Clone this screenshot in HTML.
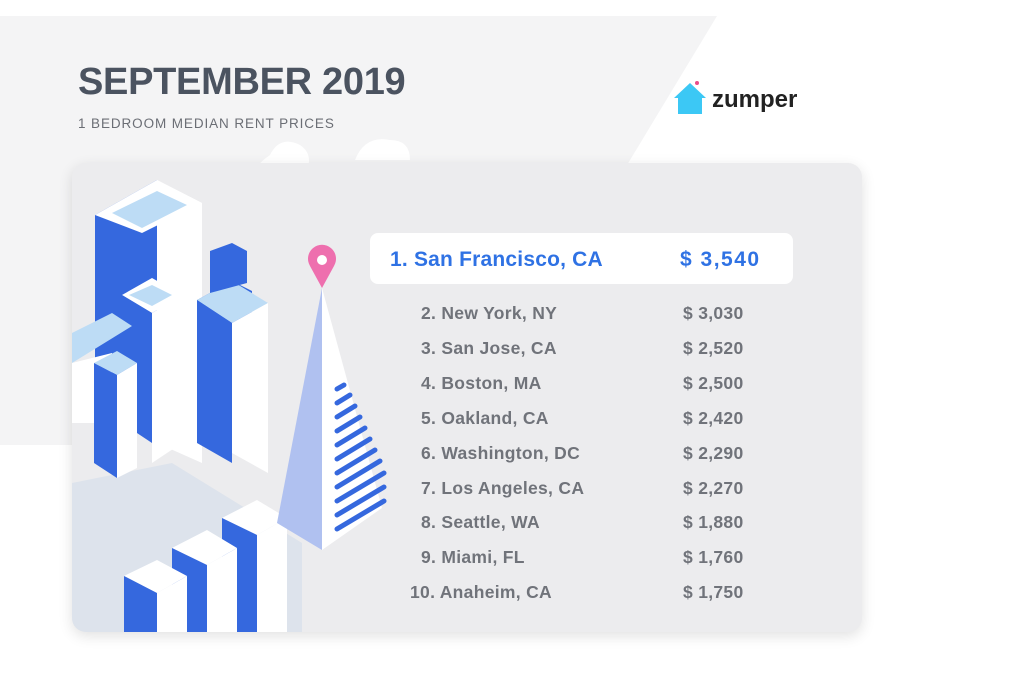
<!DOCTYPE html>
<html><head><style>
body{margin:0;width:1024px;height:673px;background:#fff;position:relative;overflow:hidden;font-family:"Liberation Sans",sans-serif}
.t{position:absolute;white-space:nowrap}
.card{position:absolute;left:72px;top:163px;width:790px;height:469px;background:#ececee;border-radius:14px;box-shadow:0 4px 14px rgba(0,0,0,.12);overflow:hidden}
.hl{position:absolute;left:370px;top:233px;width:423px;height:51px;background:#fff;border-radius:8px}
.r{position:absolute;font-size:17.5px;font-weight:bold;color:#70737a;letter-spacing:0.3px;white-space:nowrap}
</style></head><body>
<svg width="1024" height="673" style="position:absolute;left:0;top:0">
<polygon points="0,16 717,16 458,445 0,445" fill="#f4f4f5"/>
<path d="M245,215 q-5,-40 25,-60 q10,-20 30,-10 q15,10 5,30 l-50,50z" fill="#fff"/>
<path d="M355,160 q10,-25 35,-20 q20,0 20,20z" fill="#fff"/>
</svg>
<div class="t" style="left:78px;top:61px;font-size:38px;font-weight:bold;color:#4b5360;letter-spacing:-0.3px">SEPTEMBER 2019</div>
<div class="t" style="left:78px;top:116px;font-size:13.5px;color:#6b6e75;letter-spacing:0.9px">1 BEDROOM MEDIAN RENT PRICES</div>
<svg width="40" height="40" style="position:absolute;left:672px;top:80px"><polygon points="2,18 18,3 34,18 30,18 30,34 6,34 6,18" fill="#3cc8f5"/><circle cx="25" cy="3" r="2" fill="#e84d8a"/></svg>
<div class="t" style="left:712px;top:86px;font-size:24px;font-weight:bold;color:#222">zumper</div>
<div class="card">
<svg width="330" height="469" style="position:absolute;left:0;top:0">
<polygon points="0,320 100,300 230,380 230,469 0,469" fill="#dde3ec"/>
<polygon points="23,52 85,17 85,260 23,240" fill="#3568de"/>
<polygon points="85,17 130,40 130,300 85,280" fill="#fff"/>
<polygon points="23,52 85,17 130,40 70,70" fill="#fff"/>
<polygon points="40,50 85,28 115,42 70,65" fill="#bddcf5"/>
<polygon points="125,137 160,118 180,128 180,200 125,230" fill="#3568de"/>
<polygon points="125,137 160,118 196,140 160,160" fill="#bddcf5"/>
<polygon points="125,137 160,160 160,300 125,280" fill="#3568de"/>
<polygon points="160,160 196,140 196,310 160,290" fill="#fff"/>
<polygon points="138,88 160,80 175,88 175,120 138,130" fill="#3568de"/>
<polygon points="50,132 80,115 110,132 80,150" fill="#fff"/>
<polygon points="57,132 80,122 100,132 80,143" fill="#bddcf5"/>
<polygon points="50,132 80,150 80,280 50,260" fill="#3568de"/>
<polygon points="80,150 110,132 110,280 80,300" fill="#fff"/>
<polygon points="0,170 40,150 60,163 0,200" fill="#bddcf5"/>
<polygon points="0,200 40,190 40,260 0,260" fill="#fff"/>
<polygon points="22,200 45,188 65,200 45,212" fill="#bddcf5"/>
<polygon points="22,200 45,212 45,315 22,300" fill="#3568de"/>
<polygon points="45,212 65,200 65,305 45,315" fill="#fff"/>
<polygon points="150,355 185,337 215,355 185,372" fill="#fff"/>
<polygon points="150,355 185,372 185,469 150,469" fill="#3568de"/>
<polygon points="185,372 215,355 215,469 185,469" fill="#fff"/>
<polygon points="100,385 135,367 165,385 135,402" fill="#fff"/>
<polygon points="100,385 135,402 135,469 100,469" fill="#3568de"/>
<polygon points="135,402 165,385 165,469 135,469" fill="#fff"/>
<polygon points="52,413 85,397 115,413 85,430" fill="#fff"/>
<polygon points="52,413 85,430 85,469 52,469" fill="#3568de"/>
<polygon points="85,430 115,413 115,469 85,469" fill="#fff"/>
<polygon points="250,125 205,360 250,387" fill="#b0c1f0"/>
<polygon points="250,125 250,387 310,345" fill="#fff"/>
<g stroke="#3568de" stroke-width="5" stroke-linecap="round">
<line x1="265" y1="226" x2="272" y2="222"/><line x1="265" y1="240" x2="278" y2="232"/><line x1="265" y1="254" x2="283" y2="243"/><line x1="265" y1="268" x2="288" y2="254"/><line x1="265" y1="282" x2="293" y2="265"/><line x1="265" y1="296" x2="298" y2="276"/><line x1="265" y1="310" x2="303" y2="287"/><line x1="265" y1="324" x2="308" y2="298"/><line x1="265" y1="338" x2="312" y2="310"/><line x1="265" y1="352" x2="312" y2="324"/><line x1="265" y1="366" x2="312" y2="338"/>
</g>
<path d="M250,125 l-12,-22 a14,14 0 1 1 24,0z" fill="#ee6fae"/><circle cx="250" cy="97" r="5" fill="#fff"/>
</svg>
</div>
<div class="hl"></div>
<div class="t" style="left:390px;top:248px;font-size:21px;font-weight:bold;color:#2f72e4;letter-spacing:0.2px">1. San Francisco, CA</div>
<div class="t" style="left:680px;top:248px;font-size:21px;font-weight:bold;color:#2f72e4;letter-spacing:1.5px">$ 3,540</div>
<div class="r" style="left:421px;top:303px">2. New York, NY</div><div class="r" style="left:683px;top:303px">$ 3,030</div>
<div class="r" style="left:421px;top:338px">3. San Jose, CA</div><div class="r" style="left:683px;top:338px">$ 2,520</div>
<div class="r" style="left:421px;top:373px">4. Boston, MA</div><div class="r" style="left:683px;top:373px">$ 2,500</div>
<div class="r" style="left:421px;top:408px">5. Oakland, CA</div><div class="r" style="left:683px;top:408px">$ 2,420</div>
<div class="r" style="left:421px;top:443px">6. Washington, DC</div><div class="r" style="left:683px;top:443px">$ 2,290</div>
<div class="r" style="left:421px;top:478px">7. Los Angeles, CA</div><div class="r" style="left:683px;top:478px">$ 2,270</div>
<div class="r" style="left:421px;top:512px">8. Seattle, WA</div><div class="r" style="left:683px;top:512px">$ 1,880</div>
<div class="r" style="left:421px;top:547px">9. Miami, FL</div><div class="r" style="left:683px;top:547px">$ 1,760</div>
<div class="r" style="left:410px;top:582px">10. Anaheim, CA</div><div class="r" style="left:683px;top:582px">$ 1,750</div>
</body></html>
